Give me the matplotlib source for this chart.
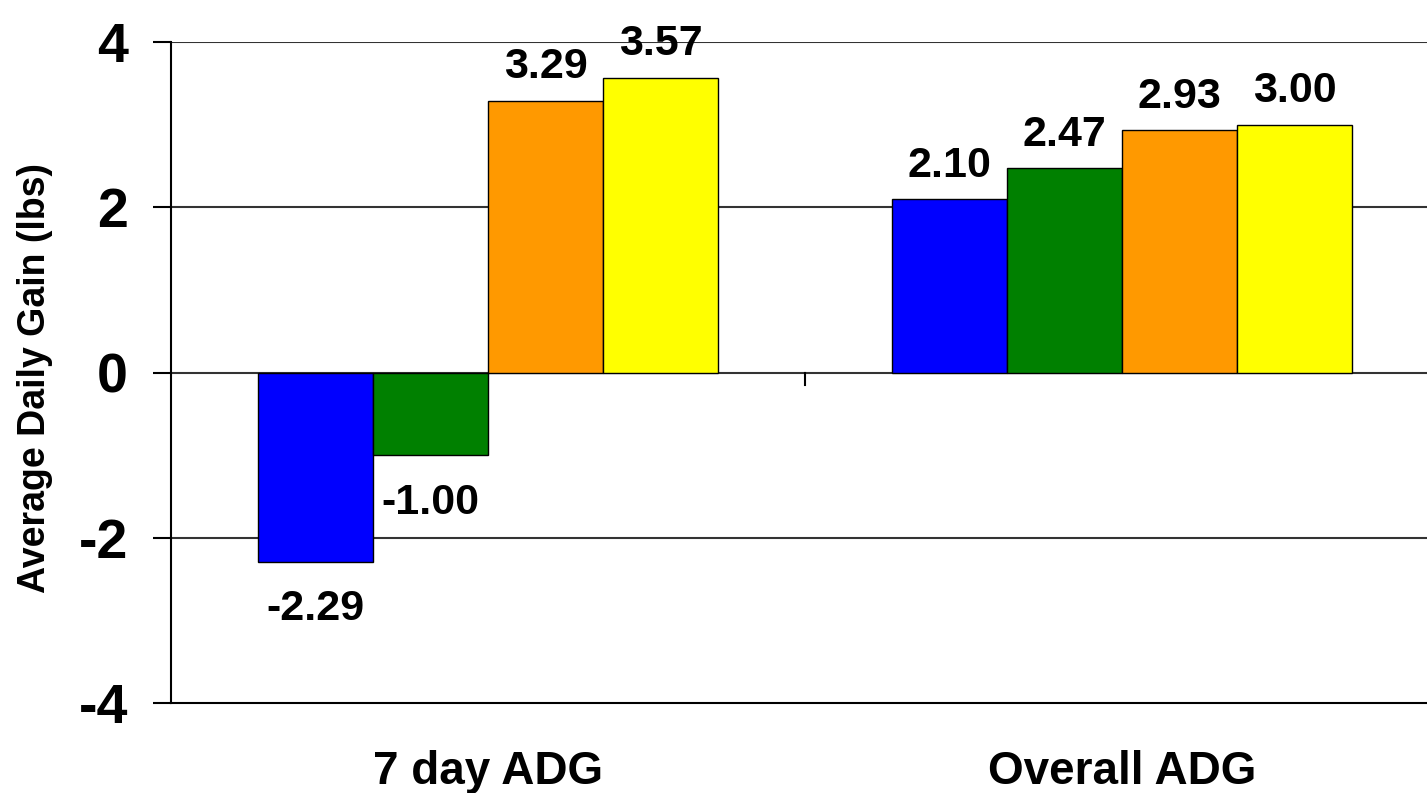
import numpy as np
import matplotlib
matplotlib.use("Agg")
import matplotlib.pyplot as plt

categories = ["7 day ADG", "Overall ADG"]
blue_vals = [-2.29, 2.10]
green_vals = [-1.00, 2.47]
orange_vals = [3.29, 2.93]
yellow_vals = [3.57, 3.00]
series = [blue_vals, green_vals, orange_vals, yellow_vals]
colors = ["#0000FF", "#008000", "#FF9900", "#FFFF00"]
yticks = [-4, -2, 0, 2, 4]

plt.rcParams['font.family'] = ['Liberation Sans', 'DejaVu Sans']
plt.rcParams['font.weight'] = 'bold'

fig = plt.figure(figsize=(14.27, 7.93), dpi=100)
ax = fig.add_axes([171 / 1427, 90 / 793, 1268 / 1427, 661 / 793])

x = np.arange(len(categories))
w = 0.1815
for i, (vals, c) in enumerate(zip(series, colors)):
    pos = x + (i - 1.5) * w
    ax.bar(pos, vals, w, color=c, edgecolor="black", linewidth=1, zorder=3)
    for p, v in zip(pos, vals):
        if v >= 0:
            ax.annotate(f"{v:.2f}", (p, v), xytext=(0, 16), textcoords="offset points",
                        ha="center", va="baseline", fontsize=31, fontweight="bold")
        else:
            ax.annotate(f"{v:.2f}", (p, v), xytext=(0, -20), textcoords="offset points",
                        ha="center", va="top", fontsize=31, fontweight="bold")

ax.set_xlim(-0.5, 1.5)
ax.set_ylim(-4, 4)
ax.set_yticks(yticks)
ax.set_yticklabels([str(t) for t in yticks], fontsize=40, fontweight="bold")
ax.set_xticks(x)
ax.set_xticklabels(categories, fontsize=33, fontweight="bold")
ax.tick_params(axis="x", length=0, pad=34)
ax.tick_params(axis="y", length=13, width=1.5, direction="out", pad=18)

for t in [-2, 0, 2, 4]:
    ax.axhline(t, color="#333333", linewidth=1.5, zorder=1)
# category separator tick on the zero line
ax.plot([0.5, 0.5], [0, -0.15], color="black", linewidth=1.5, zorder=2)

ax.spines["top"].set_visible(False)
ax.spines["right"].set_visible(False)
ax.spines["left"].set_linewidth(1.5)
ax.spines["bottom"].set_linewidth(1.5)

ax.set_ylabel("Average Daily Gain (lbs)", fontsize=27, fontweight="bold")
ax.yaxis.set_label_coords(-0.093, 0.492)

fig.savefig("out.png", dpi=100)
